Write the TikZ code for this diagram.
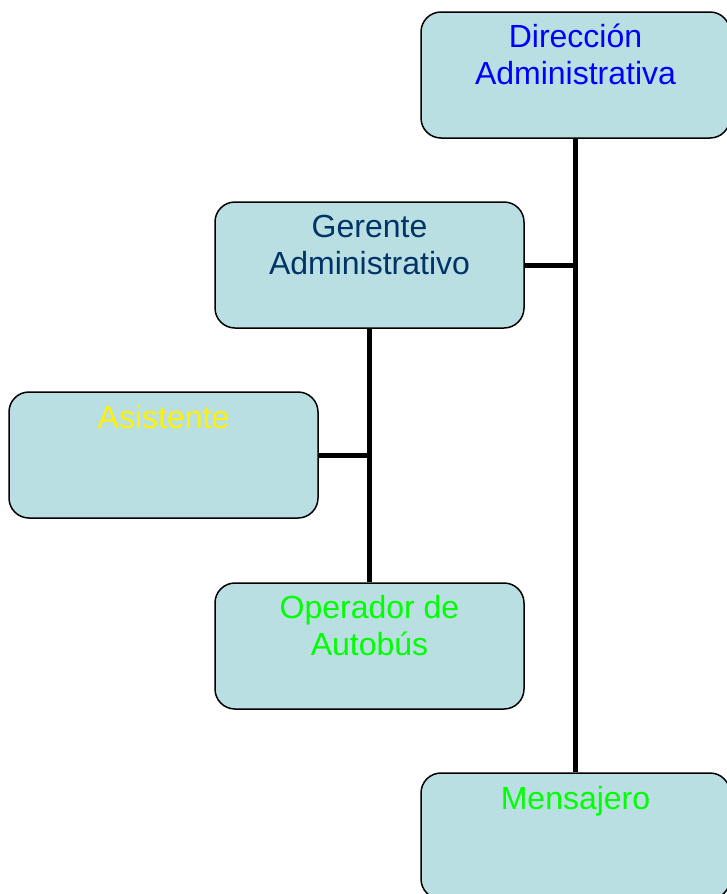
\documentclass[tikz,border=0pt]{standalone}
\usepackage{fontspec}
\setmainfont{Liberation Sans}
\definecolor{boxfill}{RGB}{185,223,227}
\definecolor{navy}{RGB}{0,51,102}
\tikzset{
  unit/.style={draw, rounded corners=20pt, fill=boxfill, line width=1.5pt,
    minimum width=309pt, minimum height=126pt},
  title/.style={anchor=base, align=center, text=#1,
    font=\fontsize{32}{37}\selectfont},
  link/.style={line width=5pt},
}
\begin{document}
\begin{tikzpicture}[x=1pt,y=-1pt]
        \useasboundingbox (0,0) rectangle (726,894);

        \node[unit] (dir) at (575.5, 75) {};
        \node[unit] (ger) at (369.5, 265) {};
        \node[unit] (asi) at (163.5, 455) {};
        \node[unit] (ope) at (369.5, 646) {};
        \node[unit] (men) at (575.5, 836) {};

        % base = last line, so two-line titles sit one line lower
        \node[title=blue] (dirtext) at ([yshift=-73pt]dir.north) {Dirección\\Administrativa};
        \node[title=navy] (gertext) at ([yshift=-73pt]ger.north) {Gerente\\Administrativo};
        \node[title=yellow] (asitext) at ([yshift=-37pt]asi.north) {Asistente};
        \node[title=green] (opetext) at ([yshift=-73pt]ope.north) {Operador de\\Autobús};
        \node[title=green] (mentext) at ([yshift=-37pt]men.north) {Mensajero};

        \draw[link] (dir.south) -- (men.north);
        \draw[link] (ger.east) -- (ger.east -| dir.south);
        \draw[link] (ger.south) -- (ope.north);
        \draw[link] (asi.east) -- (asi.east -| ger.south);

    \end{tikzpicture}
\end{document}
